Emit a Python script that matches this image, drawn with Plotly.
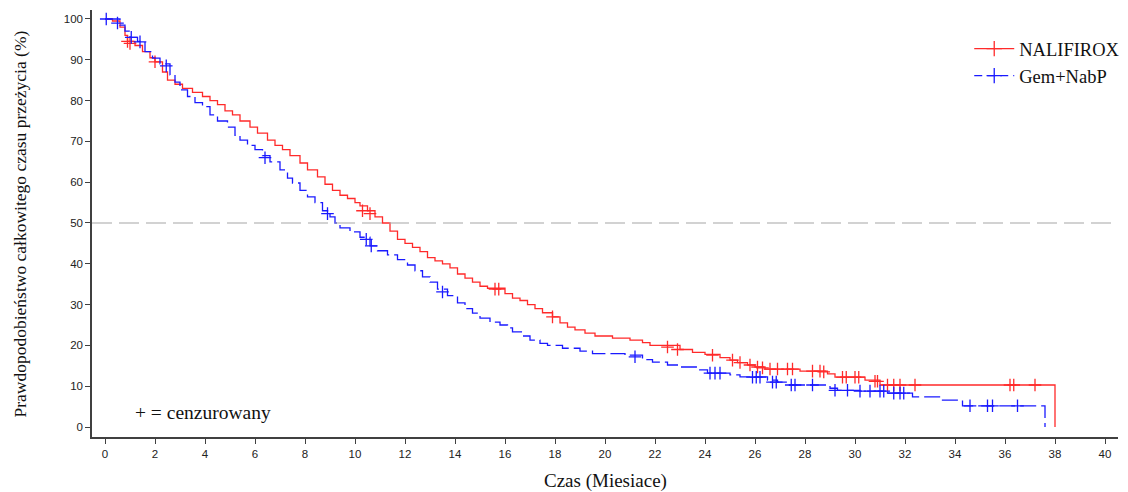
import plotly.graph_objects as go

# ---- data ----
x_ticks = list(range(0, 41, 2))
y_ticks = list(range(0, 101, 10))

nal_t = [0, 0.3, 0.6, 0.8, 0.9, 1.2, 1.5, 1.8, 2.0, 2.3, 2.5, 2.8, 3.1, 3.5, 3.9, 4.2, 4.5, 4.8,
         5.1, 5.4, 5.8, 6.1, 6.5, 6.8, 7.1, 7.4, 7.8, 8.1, 8.5, 8.8, 9.1, 9.4, 9.7, 10.0, 10.2,
         10.5, 10.8, 11.1, 11.4, 11.7, 12.0, 12.3, 12.6, 12.9, 13.2, 13.5, 13.8, 14.1, 14.4,
         14.7, 15.0, 15.3, 16.0, 16.3, 16.6, 16.9, 17.2, 17.5, 17.9, 18.2, 18.5, 18.8, 19.2,
         19.6, 20.3, 21.0, 21.5, 21.8, 23.0, 23.5, 24.0, 24.6, 25.0, 25.3, 25.7, 26.0, 26.4,
         27.8, 28.9, 29.2, 30.4, 31.0, 38.0]
nal_s = [100, 99.5, 98, 96, 94.5, 93.5, 92, 90.5, 89.5, 87, 85, 84, 83, 82, 81, 80, 79, 77.5,
         76.5, 75, 73.5, 72, 70.3, 69, 68, 66.5, 64.7, 63, 61.3, 59.5, 58, 56.8, 56, 55, 54.2,
         53, 51.5, 50, 48, 46, 45, 44, 43, 41.5, 40.7, 40, 39, 37.5, 36.5,
         35.5, 34.5, 34, 32.7, 31.6, 31, 30, 29, 28, 27, 25.5, 24.5, 23.8, 23,
         22.3, 21.8, 21.3, 20.7, 20.0, 19.0, 18.3, 17.8, 17.0, 16.4, 15.8, 15.2, 14.7, 14.2,
         13.7, 13.0, 12.2, 11.5, 10.3, 0]
nal_cens_t = [0.9, 1.0, 2.0, 10.3, 10.6, 15.6, 15.75, 17.9, 22.5, 22.9, 24.3, 25.1, 25.4, 25.8,
              26.1, 26.3, 26.6, 26.9, 27.3, 27.5, 28.3, 28.6, 28.75, 29.5, 29.65, 30.0, 30.15,
              30.8, 30.9, 31.3, 31.55, 31.8, 32.4, 36.2, 36.35, 37.2]
nal_cens_s = [94.5, 94, 89.5, 53, 52.3, 33.8, 33.8, 27, 19.6, 19.0, 17.6, 16.4, 15.8, 15.2,
              14.7, 14.5, 14.2, 14.2, 14.2, 14.2, 13.7, 13.7, 13.5, 12.2, 12.2, 12.2, 12.2,
              11.2, 11.2, 10.3, 10.3, 10.3, 10.3, 10.3, 10.3, 10.3]

gem_t = [0, 0.6, 0.8, 1.0, 1.3, 1.6, 1.9, 2.2, 2.6, 2.8, 3.0, 3.3, 3.6, 3.9, 4.2, 4.5, 4.9, 5.2,
         5.4, 5.7, 6.0, 6.3, 6.6, 7.0, 7.3, 7.5, 7.8, 8.1, 8.4, 8.7, 9.0, 9.2, 9.4, 9.8, 10.2,
         10.6, 10.9, 11.3, 11.7, 12.1, 12.4, 12.7, 13.0, 13.3, 13.7, 14.1, 14.4, 14.7, 15.0,
         15.4, 15.8, 16.1, 16.3, 16.7, 17.0, 17.4, 17.7, 18.3, 19.0, 19.5, 20.8, 21.5, 21.9,
         22.5, 23.0, 23.7, 24.1, 25.0, 25.4, 26.5, 26.9, 27.3, 29.0, 29.3, 30.2, 31.3, 32.3,
         33.5, 34.3, 37.6]
gem_s = [100, 98.5, 97, 95.5, 94.5, 92, 90.4, 89, 86.3, 84.5, 82.6, 81, 79.5, 78.5, 76.5, 75,
         73.5, 71.5, 70.3, 69, 68, 66.5, 65, 63, 61, 59.8, 58, 56.4, 55, 53, 51.5, 50, 48.8,
         47.8, 46.5, 44.4, 43.2, 42.2, 41, 39.7, 38.3, 36.8, 35.5, 33.8, 32.2, 30.4, 29, 27.9,
         26.7, 25.7, 25, 24.3, 23.3, 22.3, 21.3, 20.5, 20, 19.3, 18.6, 18.0, 17.6, 16.5, 15.9,
         15.2, 14.7, 14.0, 13.2, 12.8, 12.3, 11.5, 11.0, 10.3, 9.5, 9.0, 8.8, 8.3, 7.4, 6.6,
         5.2, 0]
gem_cens_t = [0.05, 0.5, 1.05, 1.4, 2.45, 6.4, 8.9, 10.45, 10.65, 13.5, 21.2, 24.2, 24.4, 24.6,
              25.9, 26.05, 26.2, 26.7, 26.85, 27.45, 27.6, 28.3, 29.2, 29.7, 30.2, 30.6, 31.0,
              31.15, 31.55, 31.8, 31.95, 34.6, 35.3, 35.5, 36.5]
gem_cens_s = [100, 99, 95.5, 94.4, 88.5, 66, 52.3, 46, 44.4, 33.1, 17.2, 13.2, 13.2, 13.2,
              12.2, 12.2, 12.2, 11.0, 11.0, 10.3, 10.3, 10.3, 9.0, 9.0, 8.8, 8.8, 8.8,
              8.8, 8.3, 8.3, 8.3, 5.2, 5.2, 5.2, 5.2]

RED = "#ff2a2a"
BLUE = "#1a1aff"
SERIF = "Liberation Serif"

fig = go.Figure()

# 50% reference line
fig.add_hline(y=50, line=dict(color="#a6a6a6", width=1.2, dash="20px,7px"))

fig.add_trace(go.Scatter(x=nal_t, y=nal_s, mode="lines", line=dict(color=RED, width=1.3, shape="hv"),
                         showlegend=False, hoverinfo="skip"))
fig.add_trace(go.Scatter(x=nal_cens_t, y=nal_cens_s, mode="markers",
                         marker=dict(symbol="cross-thin", size=9, line=dict(color=RED, width=1.3)),
                         showlegend=False))
fig.add_trace(go.Scatter(x=gem_t, y=gem_s, mode="lines",
                         line=dict(color=BLUE, width=1.3, shape="hv", dash="16px,5px"),
                         showlegend=False, hoverinfo="skip"))
fig.add_trace(go.Scatter(x=gem_cens_t, y=gem_cens_s, mode="markers",
                         marker=dict(symbol="cross-thin", size=9, line=dict(color=BLUE, width=1.3)),
                         showlegend=False))

# legend entries
fig.add_trace(go.Scatter(x=[None], y=[None], mode="lines+markers", name="NALIFIROX",
                         line=dict(color=RED, width=1.4),
                         marker=dict(symbol="cross-thin", size=11, line=dict(color=RED, width=1.3))))
fig.add_trace(go.Scatter(x=[None], y=[None], mode="lines+markers", name="Gem+NabP",
                         line=dict(color=BLUE, width=1.4, dash="8px,5px"),
                         marker=dict(symbol="cross-thin", size=11, line=dict(color=BLUE, width=1.3))))

axis_common = dict(showgrid=False, zeroline=False, showline=True, linecolor="#404040", linewidth=1.5,
                   ticks="outside", ticklen=5, tickwidth=1.2, tickcolor="#404040",
                   tickfont=dict(family="Liberation Sans", size=11.5, color="#222222"))

fig.update_xaxes(range=[-0.52, 40.52], tickvals=x_ticks, ticktext=[str(v) for v in x_ticks], **axis_common)
fig.update_yaxes(range=[-2.45, 102.2], tickvals=y_ticks, ticktext=[str(v) for v in y_ticks], **axis_common)

# page has an 8px body margin, so the figure is sized/offset to land the plot area correctly
fig.update_layout(
    width=1120, height=484,
    margin=dict(l=84, r=10, t=2, b=55),
    plot_bgcolor="white", paper_bgcolor="white",
    legend=dict(x=0.855, y=0.953, xanchor="left", yanchor="top",
                font=dict(family=SERIF, size=18.5, color="#111111"),
                bgcolor="rgba(0,0,0,0)", itemwidth=40, tracegroupgap=0),
    annotations=[
        dict(text="Prawdopodobieństwo całkowitego czasu przeżycia (%)", textangle=-90,
             xref="paper", yref="paper", x=-0.0702, y=0.5, xanchor="center", yanchor="middle",
             showarrow=False, font=dict(family=SERIF, size=17.5, color="#111111")),
        dict(text="Czas (Miesiace)", xref="paper", yref="paper", x=0.5, y=-0.102,
             xanchor="center", yanchor="middle",
             showarrow=False, font=dict(family=SERIF, size=19, color="#111111")),
        dict(text="+ = cenzurowany", xref="paper", yref="paper", x=0.04, y=0.058,
             xanchor="left", yanchor="middle", showarrow=False,
             font=dict(family=SERIF, size=19.5, color="#111111")),
    ],
)

fig.write_html("out.html")
